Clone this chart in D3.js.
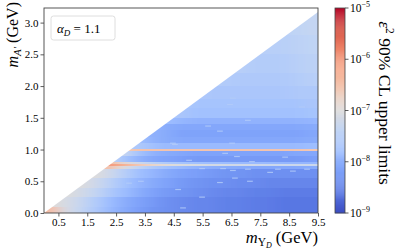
<!DOCTYPE html>
<html>
<head>
<meta charset="utf-8">
<script src="https://cdn.jsdelivr.net/npm/d3@7"></script>
<style>
body { margin: 0; background: #fff; }
text { font-family: "Liberation Serif", "DejaVu Serif", serif; fill: #000; }
</style>
</head>
<body>
<svg id="chart" width="399" height="252"></svg>
<script>
// axis ticks
var xTicks = [0.5, 1.5, 2.5, 3.5, 4.5, 5.5, 6.5, 7.5, 8.5, 9.5];
var yTicks = [0.0, 0.5, 1.0, 1.5, 2.0, 2.5, 3.0];
var cbTicks = [-9, -8, -7, -6, -5]; // log10(eps^2)

// m_Upsilon_D bin edges (GeV)
var colEdges = [0, 0.5, 1, 1.5, 2, 2.5, 3, 3.5, 4, 4.5, 5, 5.5, 6, 6.5, 7, 7.5, 8, 8.5, 9, 9.5];
// m_A' bin edges (GeV)
var rowEdges = [0, 0.1, 0.25, 0.4, 0.55, 0.7, 0.74, 0.77, 0.8, 0.9, 0.98, 1.01, 1.1, 1.2, 1.3, 1.4, 1.5, 1.65, 1.8, 2.0, 2.2, 2.5, 2.8, 3.17];
// log10 of eps^2 limit, one list per m_A' row, right aligned (ends at m_Y = 9.5)
var rowValues = [
  [-6.4, -7.1, -7.35, -7.6, -7.85, -8.05, -8.2, -8.3, -8.35, -8.4, -8.45, -8.45, -8.5, -8.5, -8.55, -8.55, -8.6, -8.6, -8.6],
  [-6.95, -7.1, -7.3, -7.55, -7.8, -8.0, -8.15, -8.25, -8.35, -8.4, -8.45, -8.45, -8.5, -8.5, -8.55, -8.55, -8.6, -8.6, -8.6],
  [-7.0, -7.15, -7.35, -7.6, -7.8, -8.0, -8.15, -8.25, -8.3, -8.35, -8.4, -8.45, -8.45, -8.5, -8.5, -8.55, -8.55, -8.55],
  [-7.0, -7.2, -7.45, -7.7, -7.9, -8.05, -8.15, -8.25, -8.3, -8.35, -8.35, -8.4, -8.4, -8.45, -8.45, -8.45, -8.45],
  [-7.0, -7.2, -7.5, -7.75, -7.9, -8.05, -8.15, -8.2, -8.25, -8.3, -8.3, -8.35, -8.35, -8.35, -8.35, -8.35],
  [-6.45, -7.0, -7.4, -7.6, -7.75, -7.85, -7.95, -8.0, -8.05, -8.05, -8.1, -8.1, -8.1, -8.1, -8.05],
  [-6.0, -6.25, -6.55, -6.8, -6.95, -7.05, -7.1, -7.15, -7.15, -7.2, -7.2, -7.25, -7.25, -7.25, -7.25],
  [-6.35, -6.85, -7.2, -7.45, -7.6, -7.7, -7.75, -7.8, -7.8, -7.85, -7.85, -7.85, -7.9, -7.9, -7.9],
  [-7.3, -7.7, -7.95, -8.1, -8.15, -8.2, -8.25, -8.25, -8.25, -8.25, -8.25, -8.25, -8.25, -8.25, -8.2],
  [-7.3, -7.7, -7.95, -8.05, -8.1, -8.15, -8.15, -8.15, -8.15, -8.15, -8.15, -8.15, -8.1, -8.1],
  [-6.6, -6.5, -6.5, -6.5, -6.5, -6.5, -6.5, -6.5, -6.5, -6.5, -6.5, -6.5, -6.5, -6.55],
  [-7.6, -7.75, -7.85, -7.85, -7.85, -7.85, -7.85, -7.85, -7.85, -7.85, -7.85, -7.85, -7.8],
  [-7.75, -7.95, -8.05, -8.1, -8.1, -8.1, -8.1, -8.1, -8.1, -8.1, -8.1, -8.1, -8.05],
  [-7.95, -8.05, -8.15, -8.15, -8.15, -8.15, -8.15, -8.15, -8.15, -8.15, -8.15, -8.1],
  [-7.9, -8.05, -8.1, -8.1, -8.1, -8.1, -8.1, -8.1, -8.1, -8.1, -8.1, -8.05],
  [-7.8, -7.9, -7.95, -7.95, -7.95, -7.95, -7.95, -7.95, -7.95, -7.95, -7.9],
  [-7.65, -7.75, -7.75, -7.75, -7.75, -7.75, -7.75, -7.75, -7.75, -7.7],
  [-7.6, -7.7, -7.7, -7.7, -7.7, -7.7, -7.7, -7.7, -7.7, -7.65],
  [-7.6, -7.65, -7.65, -7.65, -7.65, -7.65, -7.65, -7.6, -7.6],
  [-7.55, -7.6, -7.6, -7.6, -7.6, -7.55, -7.5],
  [-7.5, -7.55, -7.55, -7.55, -7.5, -7.45],
  [-7.5, -7.5, -7.45, -7.4],
  [-7.45, -7.4, -7.35]
];
// isolated weaker-limit points (short light dashes)
var spotMY = [6.10, 4.54, 6.52, 5.03, 6.28, 6.69, 7.21, 8.36, 5.48, 6.21, 6.55, 7.07, 8.11, 8.63, 9.12,
              6.10, 6.62, 7.14, 4.65, 5.48, 4.82, 7.84, 2.95, 3.36, 6.45, 8.95, 5.69, 7.07, 4.47, 6.55];
var spotMA = [1.29, 1.08, 1.10, 0.83, 0.94, 0.89, 0.81, 0.88, 0.70, 0.70, 0.67, 0.69, 0.69, 0.66, 0.69,
              0.48, 0.55, 0.50, 0.37, 0.25, 0.08, 0.64, 0.47, 0.50, 1.71, 1.67, 1.37, 1.46, 1.10, 1.81];
var spotValue = -7.55;

var massRatio = 3;      // kinematic limit m_A' < m_Y / 3
var alphaD = "1.1";

// matplotlib coolwarm
var coolwarm = ["#3b4cc0", "#5977e3", "#7b9ff9", "#9ebeff", "#c0d4f5", "#dddcdc",
                "#f2cbb7", "#f7ac8e", "#ee8468", "#d65244", "#b40426"];

var m = [8, 81, 39, 44]; // top right bottom left
var w = 399 - m[1] - m[3];
var h = 252 - m[0] - m[2];

var x = d3.scaleLinear().domain([0, 9.5]).range([0, w]);
var y = d3.scaleLinear().domain([0, 3.23]).range([h, 0]);
var color = d3.scaleLinear()
  .domain(coolwarm.map(function(d, i) { return -9 + 4 * i / (coolwarm.length - 1); }))
  .range(coolwarm).clamp(true);

var svg = d3.select("#chart");
var defs = svg.append("defs");

defs.append("clipPath").attr("id", "tri")
  .append("path")
  .attr("d", d3.line()([[x(0), y(0)], [x(9.5), y(0)], [x(9.5), y(9.5 / massRatio)]]) + "Z");

defs.append("filter").attr("id", "hblur")
  .attr("x", "-10%").attr("y", "0%").attr("width", "120%").attr("height", "100%")
  .append("feGaussianBlur").attr("stdDeviation", "7 0");

var graph = svg.append("g").attr("transform", "translate(" + m[3] + "," + m[0] + ")");

// heat map cells
var cells = [];
rowValues.forEach(function(vals, i) {
  var start = colEdges.length - 1 - vals.length;
  vals.forEach(function(v, j) {
    var x0 = colEdges[start + j], x1 = colEdges[start + j + 1];
    cells.push({
      x0: j === 0 ? x0 - 0.6 : x0,
      x1: j === vals.length - 1 ? x1 + 0.6 : x1,
      y0: rowEdges[i], y1: rowEdges[i + 1], v: v
    });
  });
});

var heat = graph.append("g").attr("clip-path", "url(#tri)");
heat.append("g").attr("filter", "url(#hblur)")
  .selectAll("rect").data(cells).enter().append("rect")
  .attr("x", function(d) { return x(d.x0); })
  .attr("width", function(d) { return x(d.x1) - x(d.x0) + 0.5; })
  .attr("y", function(d) { return y(d.y1); })
  .attr("height", function(d) { return y(d.y0) - y(d.y1); })
  .attr("shape-rendering", "crispEdges")
  .attr("fill", function(d) { return color(d.v); });

heat.append("g").selectAll("rect").data(spotMY).enter().append("rect")
  .attr("x", function(d) { return x(d - 0.1); })
  .attr("width", x(0.2) - x(0))
  .attr("y", function(d, i) { return y(spotMA[i]) - 0.6; })
  .attr("height", 1.2)
  .attr("fill", color(spotValue)).attr("opacity", 0.8);

// axes
var xAxis = d3.axisBottom(x).tickValues(xTicks).tickSize(3.5).tickPadding(2)
  .tickFormat(d3.format(".1f"));
var gx = graph.append("g").attr("transform", "translate(0," + h + ")").call(xAxis);
var yAxis = d3.axisLeft(y).tickValues(yTicks).tickSize(3.5).tickPadding(2)
  .tickFormat(d3.format(".1f"));
var gy = graph.append("g").call(yAxis);
[gx, gy].forEach(function(g) {
  g.select(".domain").remove();
  g.selectAll("line").attr("stroke", "#333").attr("stroke-width", 0.8);
  g.selectAll("text").attr("font-family", "Liberation Serif").attr("font-size", 11).attr("fill", "#000");
});

graph.append("rect").attr("width", w).attr("height", h)
  .attr("fill", "none").attr("stroke", "#444").attr("stroke-width", 0.9);

// legend box
var leg = graph.append("g").attr("transform", "translate(7,8)");
leg.append("rect").attr("width", 64).attr("height", 24).attr("rx", 2.5)
  .attr("fill", "#fff").attr("stroke", "#d6d6d6").attr("stroke-width", 0.8);
var lt = leg.append("text").attr("x", 6).attr("y", 16.5).attr("font-size", 13);
lt.append("tspan").attr("font-style", "italic").text("α");
lt.append("tspan").attr("font-style", "italic").attr("font-size", 9).attr("dy", 3).text("D");
lt.append("tspan").attr("dy", -3).text(" = " + alphaD);

// axis labels
var xl = svg.append("text").attr("x", m[3] + w).attr("y", 243)
  .attr("text-anchor", "end").attr("font-size", 16.5);
xl.append("tspan").attr("font-style", "italic").text("m");
xl.append("tspan").attr("font-size", 11.5).attr("dy", 3).text("Υ");
xl.append("tspan").attr("font-size", 8).attr("font-style", "italic").attr("dy", 2).text("D");
xl.append("tspan").attr("dy", -5).text(" (GeV)");

var yl = svg.append("text").attr("transform", "translate(18,2) rotate(-90)")
  .attr("text-anchor", "end").attr("font-size", 16);
yl.append("tspan").attr("font-style", "italic").text("m");
yl.append("tspan").attr("font-size", 11).attr("font-style", "italic").attr("dy", 3).text("A′");
yl.append("tspan").attr("dy", -3).text(" (GeV)");

// colour bar
var cbX = 335, cbW = 10;
var cbY = d3.scaleLinear().domain([-9, -5]).range([m[0] + h, m[0]]);
var cb = svg.append("g");
cb.selectAll("rect.s").data(d3.range(-9, -5, 0.02)).enter().append("rect")
  .attr("class", "s")
  .attr("x", cbX).attr("width", cbW)
  .attr("y", function(d) { return cbY(d + 0.02); })
  .attr("height", function(d) { return cbY(d) - cbY(d + 0.02) + 0.3; })
  .attr("fill", function(d) { return color(d + 0.01); });
cb.append("rect").attr("x", cbX).attr("y", m[0]).attr("width", cbW).attr("height", h)
  .attr("fill", "none").attr("stroke", "#444").attr("stroke-width", 0.8);
var ct = cb.selectAll("g.t").data(cbTicks).enter().append("g").attr("class", "t")
  .attr("transform", function(d) { return "translate(" + (cbX + cbW) + "," + cbY(d) + ")"; });
ct.append("line").attr("x2", 3.5).attr("stroke", "#333").attr("stroke-width", 0.8);
var ctt = ct.append("text").attr("x", 5).attr("y", 4).attr("font-size", 11.5);
ctt.append("tspan").text("10");
ctt.append("tspan").attr("font-size", 8).attr("dy", -5).text(function(d) { return "−" + (-d); });

var cl = svg.append("text").attr("transform", "translate(379,103) rotate(90)")
  .attr("text-anchor", "middle").attr("font-size", 17.5);
cl.append("tspan").attr("font-style", "italic").text("ε");
cl.append("tspan").attr("font-size", 11.5).attr("dy", -7).text("2");
cl.append("tspan").attr("dy", 7).text(" 90% CL upper limits");
</script>
</body>
</html>
